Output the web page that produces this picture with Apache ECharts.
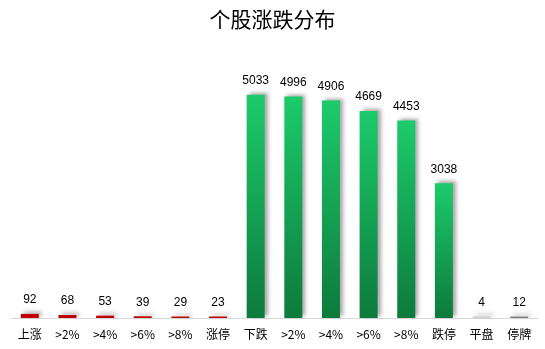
<!DOCTYPE html>
<html><head><meta charset="utf-8">
<script src="https://cdn.jsdelivr.net/npm/echarts@6/dist/echarts.min.js"></script>
<style>html,body{margin:0;padding:0;background:#fff}#c{width:545px;height:349px}</style>
</head><body><div id="c"></div>
<script>
var categories = ['上涨','>2%','>4%','>6%','>8%','涨停','下跌','>2%','>4%','>6%','>8%','跌停','平盘','停牌'];
var values = [92,68,53,39,29,23,5033,4996,4906,4669,4453,3038,4,12];
var kinds = ['up','up','up','up','up','up','down','down','down','down','down','down','flat','halt'];

var red = '#c00000';
var green = new echarts.graphic.LinearGradient(0,0,0,1,[{offset:0,color:'#1ccb6b'},{offset:1,color:'#0d7a3c'}]);
function colorFor(k){
  if(k==='up') return red;
  if(k==='down') return green;
  if(k==='flat') return '#d0d0d0';
  return '#7f7f7f';
}
var data = values.map(function(v,i){
  return {value:v, itemStyle:{color:colorFor(kinds[i])}};
});
var chart = echarts.init(document.getElementById('c'));
chart.setOption({
  animation:false,
  title:{text:'个股涨跌分布', left:'center', top:4,
    textStyle:{fontFamily:'Noto Sans CJK SC', fontSize:21, fontWeight:'normal', color:'#000'}},
  grid:{left:11, right:7, top:52, bottom:31},
  xAxis:{type:'category', data:categories,
    axisLine:{lineStyle:{color:'#d9d9d9'}}, axisTick:{show:false},
    axisLabel:{color:'#000', fontSize:12, margin:10, interval:0, fontFamily:'Noto Sans CJK SC'}},
  yAxis:{type:'value', min:0, max:6000, show:false, splitLine:{show:false}},
  series:[{type:'bar', data:data, barWidth:18, barMinHeight:1.5,
    itemStyle:{shadowColor:'rgba(0,0,0,0.35)', shadowBlur:4, shadowOffsetX:3, shadowOffsetY:-2},
    label:{show:true, position:'top', distance:8, color:'#000', fontSize:12, fontFamily:'Liberation Sans'}}]
});
</script></body></html>
